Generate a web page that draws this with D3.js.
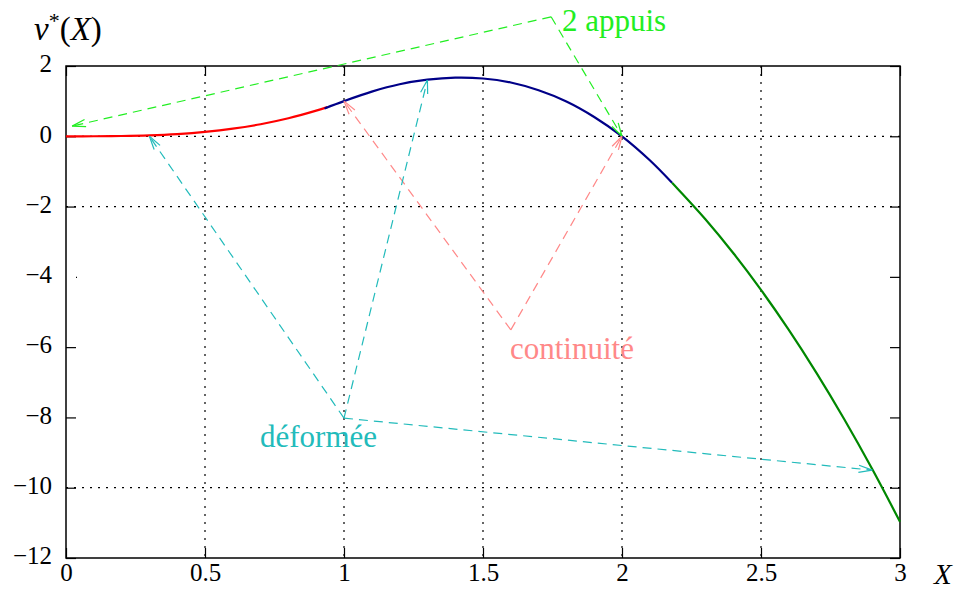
<html>
<head>
	<meta charset="UTF-8">
	<title>v*(X)</title>
	<style>
		body { margin: 0; background: #fff; }
		.axis text { font-size: 25px; fill: #000; }
		.axis path { display: none; }
		.axis line { stroke: #000; stroke-width: 1.2; }
		.grid { stroke: #000; stroke-width: 1.2; stroke-dasharray: 2,6; }
	</style>
</head>
<body>
	<script src="https://cdnjs.cloudflare.com/ajax/libs/d3/7.8.5/d3.min.js"></script>
	<script>
		var serif = "'Liberation Serif', 'DejaVu Serif', serif";

		// tick values
		var xTicks = [0, 0.5, 1, 1.5, 2, 2.5, 3];
		var yTicks = [2, 0, -2, -4, -6, -8, -10, -12];
		var xGrid = [0.5, 1, 1.5, 2, 2.5];
		var yGrid = [0, -2, -10];

		// the three pieces of the curve
		var redX = [0, 0.1, 0.2, 0.3, 0.4, 0.5, 0.6, 0.7, 0.8, 0.9, 0.94];
		var redV = [0, 0.001, 0.008, 0.027, 0.064, 0.125, 0.216, 0.343, 0.512, 0.729, 0.83];
		var blueX = [0.93, 1, 1.1, 1.2, 1.3, 1.4, 1.5, 1.6, 1.7, 1.8, 1.9, 2, 2.1, 2.18];
		var blueV = [0.79, 1, 1.27, 1.48, 1.61, 1.67, 1.645, 1.53, 1.31, 0.99, 0.55, 0, -0.68, -1.32];
		var greenX = [2.18, 2.2, 2.3, 2.4, 2.5, 2.6, 2.7, 2.8, 2.9, 3];
		var greenV = [-1.32, -1.49, -2.36, -3.32, -4.37, -5.51, -6.74, -8.06, -9.47, -10.97];

		// annotations: label, its anchor point, arrow targets
		var notes = [
			{ color: "#22ee22", from: [1.745, 3.4], to: [[0.022, 0.29], [2, 0]],
			  label: "2 appuis", lx: 562, ly: 31 },
			{ color: "#ff8888", from: [1.6, -5.51], to: [[1, 1], [2, 0]],
			  label: "continuité", lx: 510, ly: 359 },
			{ color: "#22bbbb", from: [1, -8.02], to: [[0.3, 0], [1.3, 1.6], [2.9, -9.5]],
			  label: "déformée", lx: 260, ly: 447 }
		];

		var margin = {top: 66, right: 64, bottom: 35, left: 66},
			width = 964 - margin.left - margin.right,
			height = 593 - margin.top - margin.bottom;

		var x = d3.scaleLinear().domain([0, 3]).range([0, width]);
		var y = d3.scaleLinear().domain([-12, 2]).range([height, 0]);

		var svg = d3.select("body").append("svg")
			.attr("width", 964)
			.attr("height", 593)
			.append("g")
				.attr("transform", "translate(" + margin.left + "," + margin.top + ")");

		// grid
		svg.selectAll(".gx").data(xGrid).enter().append("line")
			.attr("class", "grid")
			.attr("x1", function(d) { return x(d); }).attr("x2", function(d) { return x(d); })
			.attr("y1", 0).attr("y2", height);
		svg.selectAll(".gy").data(yGrid).enter().append("line")
			.attr("class", "grid")
			.attr("x1", 0).attr("x2", width)
			.attr("y1", function(d) { return y(d); }).attr("y2", function(d) { return y(d); });

		// axes, ticks pointing inward
		svg.append("g").attr("class", "axis")
			.attr("transform", "translate(0," + height + ")")
			.call(d3.axisBottom(x).tickValues(xTicks).tickSize(-10).tickPadding(17).tickFormat(d3.format("")));
		svg.append("g").attr("class", "axis")
			.call(d3.axisTop(x).tickValues(xTicks).tickSize(-10).tickFormat(""));
		var left = svg.append("g").attr("class", "axis")
			.call(d3.axisLeft(y).tickValues(yTicks).tickSize(-10).tickPadding(14));
		left.selectAll(".tick line").filter(function(d) { return d === -4; })
			.attr("x1", 10).attr("x2", 11);
		svg.append("g").attr("class", "axis")
			.attr("transform", "translate(" + width + ",0)")
			.call(d3.axisRight(y).tickValues(yTicks).tickSize(-10).tickFormat(""));
		svg.selectAll(".axis .tick text").attr("dy", null);
		svg.selectAll(".axis text").attr("dominant-baseline", "middle");

		svg.append("rect")
			.attr("width", width).attr("height", height)
			.attr("fill", "none").attr("stroke", "#000").attr("stroke-width", 1.5);

		// curves
		var line = d3.line()
			.x(function(d) { return x(d[0]); })
			.y(function(d) { return y(d[1]); })
			.curve(d3.curveCatmullRom);

		function piece(xs, vs, color) {
			svg.append("path")
				.datum(d3.zip(xs, vs))
				.attr("d", line)
				.attr("fill", "none")
				.attr("stroke", color)
				.attr("stroke-width", 2.2);
		}
		piece(redX, redV, "#ff0000");
		piece(blueX, blueV, "#000088");
		piece(greenX, greenV, "#008800");

		// dashed arrows with open heads
		function arrow(a, b, color) {
			var x1 = x(a[0]), y1 = y(a[1]), x2 = x(b[0]), y2 = y(b[1]);
			svg.append("line")
				.attr("x1", x1).attr("y1", y1).attr("x2", x2).attr("y2", y2)
				.attr("stroke", color).attr("stroke-width", 1.2)
				.attr("stroke-dasharray", "9,6");
			var ang = Math.atan2(y2 - y1, x2 - x1), len = 14, spread = 0.26;
			[-spread, spread].forEach(function(s) {
				svg.append("line")
					.attr("x1", x2).attr("y1", y2)
					.attr("x2", x2 - len * Math.cos(ang + s))
					.attr("y2", y2 - len * Math.sin(ang + s))
					.attr("stroke", color).attr("stroke-width", 1.2);
			});
		}
		notes.forEach(function(n) {
			n.to.forEach(function(t) { arrow(n.from, t, n.color); });
			svg.append("text")
				.attr("x", n.lx - margin.left).attr("y", n.ly - margin.top)
				.attr("font-size", 31)
				.attr("fill", n.color)
				.text(n.label);
		});

		// axis titles
		var root = d3.select("svg");
		var vt = root.append("text").attr("x", 34).attr("y", 40).attr("font-size", 33);
		vt.append("tspan").attr("font-style", "italic").text("v");
		vt.append("tspan").attr("dy", -12).attr("font-size", 22).text("*");
		vt.append("tspan").attr("dy", 12).text("(");
		vt.append("tspan").attr("font-style", "italic").text("X");
		vt.append("tspan").text(")");
		root.append("text").attr("x", 934).attr("y", 584).attr("font-size", 29)
			.attr("font-style", "italic").text("X");

		// every text in the serif face
		root.selectAll("g").attr("font-family", null);
		root.selectAll("text").style("font-family", serif);
	</script>
</body>
</html>
